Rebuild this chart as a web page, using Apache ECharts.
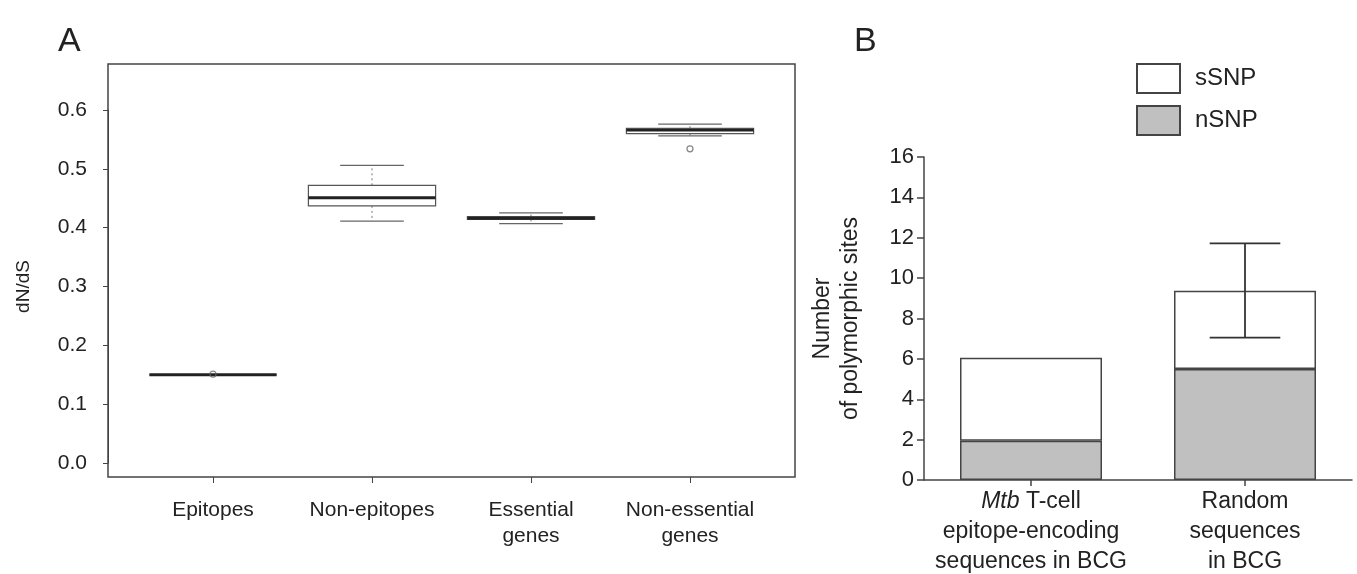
<!DOCTYPE html>
<html>
<head>
<meta charset="utf-8">
<script src="https://cdn.jsdelivr.net/npm/echarts@6/dist/echarts.min.js"></script>
<style>
html,body{margin:0;padding:0;background:#fff;}
#chart{width:1357px;height:574px;}
</style>
</head>
<body>
<div id="chart"></div>
<script>
// ---------- Panel A data ----------
const catsA = ['Epitopes', 'Non-epitopes', 'Essential\ngenes', 'Non-essential\ngenes'];
const boxMin = [0.150, 0.411, 0.407, 0.556];
const boxQ1  = [0.150, 0.437, 0.414, 0.560];
const boxMed = [0.150, 0.451, 0.416, 0.566];
const boxQ3  = [0.150, 0.472, 0.419, 0.569];
const boxMax = [0.150, 0.506, 0.425, 0.576];
const outlierCat = [0, 3];
const outlierVal = [0.151, 0.534];
const yTicksA = [0, 0.6, 0.1]; // min, max, step

// ---------- Panel B data ----------
const catsB = ['Mtb T-cell\nepitope-encoding\nsequences in BCG', 'Random\nsequences\nin BCG'];
const nSNP = [1.95, 5.5];
const sSNP = [4.1, 3.88];
const errLow  = [null, 7.05];
const errHigh = [null, 11.72];
const yTicksB = [0, 16, 2];

const FONT = "'Liberation Sans', Arial, Helvetica, sans-serif";
const TXT = '#222';
const LINE = '#444';

const boxData = catsA.map((c, i) => [i, boxMin[i], boxQ1[i], boxMed[i], boxQ3[i], boxMax[i]]);
const outData = outlierCat.map((c, i) => [c, outlierVal[i]]);
const errData = [];
errLow.forEach((v, i) => { if (v != null) errData.push([i, v, errHigh[i]]); });

const chart = echarts.init(document.getElementById('chart'), null, {renderer: 'canvas'});

function renderBox(params, api) {
  const idx = api.value(0);
  const w = api.size([1, 0])[0] * 0.8;
  const cap = w / 2;
  const pMin = api.coord([idx, api.value(1)]);
  const pQ1 = api.coord([idx, api.value(2)]);
  const pMed = api.coord([idx, api.value(3)]);
  const pQ3 = api.coord([idx, api.value(4)]);
  const pMax = api.coord([idx, api.value(5)]);
  const x = pMed[0];
  const children = [
    {type: 'line', shape: {x1: x, y1: pQ3[1], x2: x, y2: pMax[1]}, style: {stroke: '#777', lineWidth: 1, lineDash: [2, 3]}},
    {type: 'line', shape: {x1: x, y1: pQ1[1], x2: x, y2: pMin[1]}, style: {stroke: '#777', lineWidth: 1, lineDash: [2, 3]}},
    {type: 'line', shape: {x1: x - cap / 2, y1: pMax[1], x2: x + cap / 2, y2: pMax[1]}, style: {stroke: '#666', lineWidth: 1.2}},
    {type: 'line', shape: {x1: x - cap / 2, y1: pMin[1], x2: x + cap / 2, y2: pMin[1]}, style: {stroke: '#666', lineWidth: 1.2}},
    {type: 'rect', shape: {x: x - w / 2, y: pQ3[1], width: w, height: Math.max(pQ1[1] - pQ3[1], 0)}, style: {fill: '#fff', stroke: '#555', lineWidth: 1.2}},
    {type: 'line', shape: {x1: x - w / 2, y1: pMed[1], x2: x + w / 2, y2: pMed[1]}, style: {stroke: '#222', lineWidth: 3}}
  ];
  return {type: 'group', children: children};
}

function renderErr(params, api) {
  const idx = api.value(0);
  const lo = api.coord([idx, api.value(1)]);
  const hi = api.coord([idx, api.value(2)]);
  const bw = api.size([1, 0])[0];
  const cap = bw * 0.33 / 2;
  const x = lo[0];
  const st = {stroke: '#333', lineWidth: 1.8};
  return {type: 'group', children: [
    {type: 'line', shape: {x1: x, y1: lo[1], x2: x, y2: hi[1]}, style: st},
    {type: 'line', shape: {x1: x - cap, y1: lo[1], x2: x + cap, y2: lo[1]}, style: st},
    {type: 'line', shape: {x1: x - cap, y1: hi[1], x2: x + cap, y2: hi[1]}, style: st}
  ]};
}

const option = {
  animation: false,
  backgroundColor: '#fff',
  textStyle: {fontFamily: FONT, color: TXT},
  title: [
    {text: 'A', left: 53, top: 20, textStyle: {fontFamily: FONT, fontSize: 34, fontWeight: 'normal', color: TXT}},
    {text: 'B', left: 849, top: 20, textStyle: {fontFamily: FONT, fontSize: 34, fontWeight: 'normal', color: TXT}}
  ],
  legend: {
    left: 1131, top: 58, orient: 'vertical', itemWidth: 43, itemHeight: 29, itemGap: 11,
    icon: 'rect',
    data: ['sSNP', 'nSNP'],
    textStyle: {fontFamily: FONT, fontSize: 24, color: TXT, padding: [0, 0, 0, 10]},
    selectedMode: false
  },
  grid: [
    {left: 108, top: 64, width: 687, height: 413, show: true, borderColor: LINE, borderWidth: 1.5, backgroundColor: 'transparent', outerBoundsMode: 'none', containLabel: false},
    {left: 133.5, top: 110, width: 636, height: 353, outerBoundsMode: 'none', containLabel: false},
    {left: 924, top: 157, width: 428, height: 323, outerBoundsMode: 'none', containLabel: false},
    {left: 133.5, top: 64, width: 636, height: 413, outerBoundsMode: 'none', containLabel: false}
  ],
  xAxis: [
    {gridIndex: 0, type: 'value', show: false, min: 0, max: 1},
    {gridIndex: 1, type: 'category', data: catsA, show: false},
    {gridIndex: 2, type: 'category', data: catsB,
      axisLine: {show: true, lineStyle: {color: LINE, width: 1.5}},
      axisTick: {show: true, alignWithLabel: true, length: 6, lineStyle: {color: LINE, width: 1.5}},
      axisLabel: {
        interval: 0, margin: 7, fontFamily: FONT, fontSize: 23, color: TXT, lineHeight: 30,
        formatter: v => v.replace('Mtb', '{i|Mtb}'),
        rich: {i: {fontStyle: 'italic', fontFamily: FONT, fontSize: 23, color: TXT, lineHeight: 30}}
      }
    },
    {gridIndex: 3, type: 'category', data: catsA, position: 'bottom',
      axisLine: {show: false},
      axisTick: {show: true, alignWithLabel: true, length: 6, lineStyle: {color: LINE, width: 1}},
      axisLabel: {fontFamily: FONT, fontSize: 21, color: TXT, margin: 20, lineHeight: 26, interval: 0}
    }
  ],
  yAxis: [
    {gridIndex: 0, type: 'value', show: false, min: 0, max: 1},
    {gridIndex: 1, type: 'value', min: yTicksA[0], max: yTicksA[1], interval: yTicksA[2], offset: 25.5,
      name: 'dN/dS', nameLocation: 'middle', nameGap: 75, nameRotate: 90,
      nameTextStyle: {fontFamily: FONT, fontSize: 19, color: TXT},
      axisLine: {show: true, lineStyle: {color: LINE, width: 1}},
      axisTick: {show: true, length: 5, lineStyle: {color: LINE}},
      axisLabel: {fontFamily: FONT, fontSize: 21, color: TXT, margin: 21, formatter: v => v.toFixed(1)},
      splitLine: {show: false}
    },
    {gridIndex: 2, type: 'value', min: yTicksB[0], max: yTicksB[1], interval: yTicksB[2],
      name: 'Number\nof polymorphic sites', nameLocation: 'middle', nameGap: 59, nameRotate: 90,
      nameTextStyle: {fontFamily: FONT, fontSize: 23, color: TXT, lineHeight: 28, align: 'center'},
      axisLine: {show: true, lineStyle: {color: LINE, width: 1.5}},
      axisTick: {show: true, length: 7, lineStyle: {color: LINE, width: 1.5}},
      axisLabel: {fontFamily: FONT, fontSize: 22, color: TXT, margin: 10},
      splitLine: {show: false}
    },
    {gridIndex: 3, type: 'value', show: false, min: 0, max: 1}
  ],
  series: [
    {type: 'custom', xAxisIndex: 1, yAxisIndex: 1, data: boxData, encode: {x: 0, y: [1, 2, 3, 4, 5]}, renderItem: renderBox, z: 3},
    {type: 'scatter', xAxisIndex: 1, yAxisIndex: 1, data: outData, symbol: 'circle', symbolSize: 6,
      itemStyle: {color: 'rgba(0,0,0,0)', borderColor: '#666', borderWidth: 1.2}, z: 4},
    {name: 'nSNP', type: 'bar', xAxisIndex: 2, yAxisIndex: 2, stack: 'snp', data: nSNP, barWidth: 142,
      itemStyle: {color: '#c0c0c0', borderColor: LINE, borderWidth: 1.5}},
    {name: 'sSNP', type: 'bar', xAxisIndex: 2, yAxisIndex: 2, stack: 'snp', data: sSNP, barWidth: 142,
      itemStyle: {color: '#ffffff', borderColor: LINE, borderWidth: 1.5}},
    {type: 'custom', xAxisIndex: 2, yAxisIndex: 2, data: errData, encode: {x: 0, y: [1, 2]}, renderItem: renderErr, z: 5}
  ]
};
chart.setOption(option);
</script>
</body>
</html>
